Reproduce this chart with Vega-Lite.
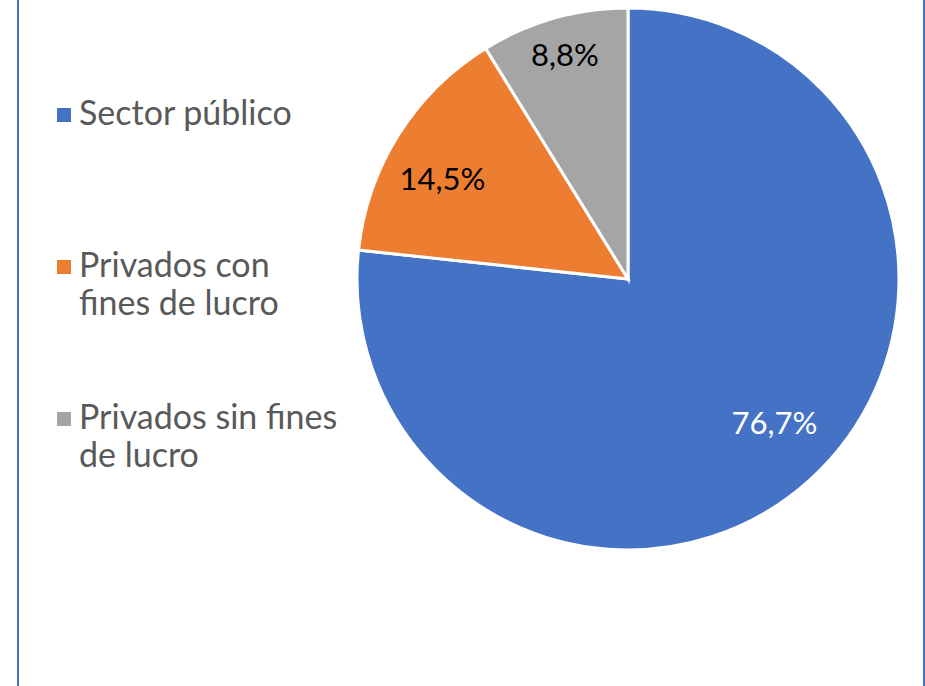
{
  "$schema": "https://vega.github.io/schema/vega-lite/v6.json",
  "width": 542,
  "height": 542,
  "autosize": {"type": "none"},
  "padding": {"left": 357, "top": 8, "right": 26, "bottom": 136},
  "background": "white",
  "config": {"view": {"stroke": null}, "font": "Lato", "style": {"guide-label": {"lineHeight": 38}}},
  "data": {
    "values": [
      {"sector": "Sector público", "valor": 76.7, "etiqueta": "76,7%"},
      {"sector": "Privados con fines de lucro", "valor": 14.5, "etiqueta": "14,5%"},
      {"sector": "Privados sin fines de lucro", "valor": 8.8, "etiqueta": "8,8%"}
    ]
  },
  "layer": [
    {
      "data": {"values": [{}]},
      "mark": {"type": "rect", "fill": null, "stroke": "#4472C4", "strokeWidth": 2, "x": -339, "x2": 567, "y": -20, "y2": 700},
      "encoding": {}
    },
    {
      "mark": {"type": "arc", "outerRadius": 271, "stroke": "white", "strokeWidth": 3},
      "encoding": {
        "theta": {"field": "valor", "type": "quantitative", "stack": true},
        "order": {"field": "valor", "sort": "descending"},
        "color": {
          "field": "sector",
          "type": "nominal",
          "sort": ["Sector público", "Privados con fines de lucro", "Privados sin fines de lucro"],
          "scale": {
            "domain": ["Sector público", "Privados con fines de lucro", "Privados sin fines de lucro"],
            "range": ["#4472C4", "#ED7D31", "#A5A5A5"]
          },
          "legend": {
            "title": null,
            "orient": "none",
            "legendX": -310,
            "legendY": 90,
            "direction": "vertical",
            "symbolType": "square",
            "symbolSize": 196,
            "symbolStrokeWidth": 0,
            "labelFontSize": 34,
            "labelColor": "#595959",
            "labelLimit": 0,
            "labelOffset": -2,
            "rowPadding": 80,
            "labelExpr": "datum.label == 'Privados con fines de lucro' ? ['Privados con', 'fines de lucro'] : datum.label == 'Privados sin fines de lucro' ? ['Privados sin fines', 'de lucro'] : ['Sector público', '']",
            "encode": {"labels": {"update": {"lineHeight": {"value": 38}}}}
          }
        }
      }
    },
    {
      "mark": {"type": "text", "radius": 207, "fontSize": 31, "fill": "white", "dx": 8, "dy": -8},
      "encoding": {
        "theta": {"field": "valor", "type": "quantitative", "stack": true},
        "order": {"field": "valor", "sort": "descending"},
        "text": {"condition": {"test": "datum.sector == 'Sector público'", "field": "etiqueta"}, "value": ""}
      }
    },
    {
      "mark": {"type": "text", "radius": 210, "fontSize": 31, "fill": "#000000", "dx": -8, "dy": 14},
      "encoding": {
        "theta": {"field": "valor", "type": "quantitative", "stack": true},
        "order": {"field": "valor", "sort": "descending"},
        "text": {"condition": {"test": "datum.sector == 'Privados con fines de lucro'", "field": "etiqueta"}, "value": ""}
      }
    },
    {
      "mark": {"type": "text", "radius": 231, "fontSize": 31, "fill": "#000000"},
      "encoding": {
        "theta": {"field": "valor", "type": "quantitative", "stack": true},
        "order": {"field": "valor", "sort": "descending"},
        "text": {"condition": {"test": "datum.sector == 'Privados sin fines de lucro'", "field": "etiqueta"}, "value": ""}
      }
    }
  ]
}
